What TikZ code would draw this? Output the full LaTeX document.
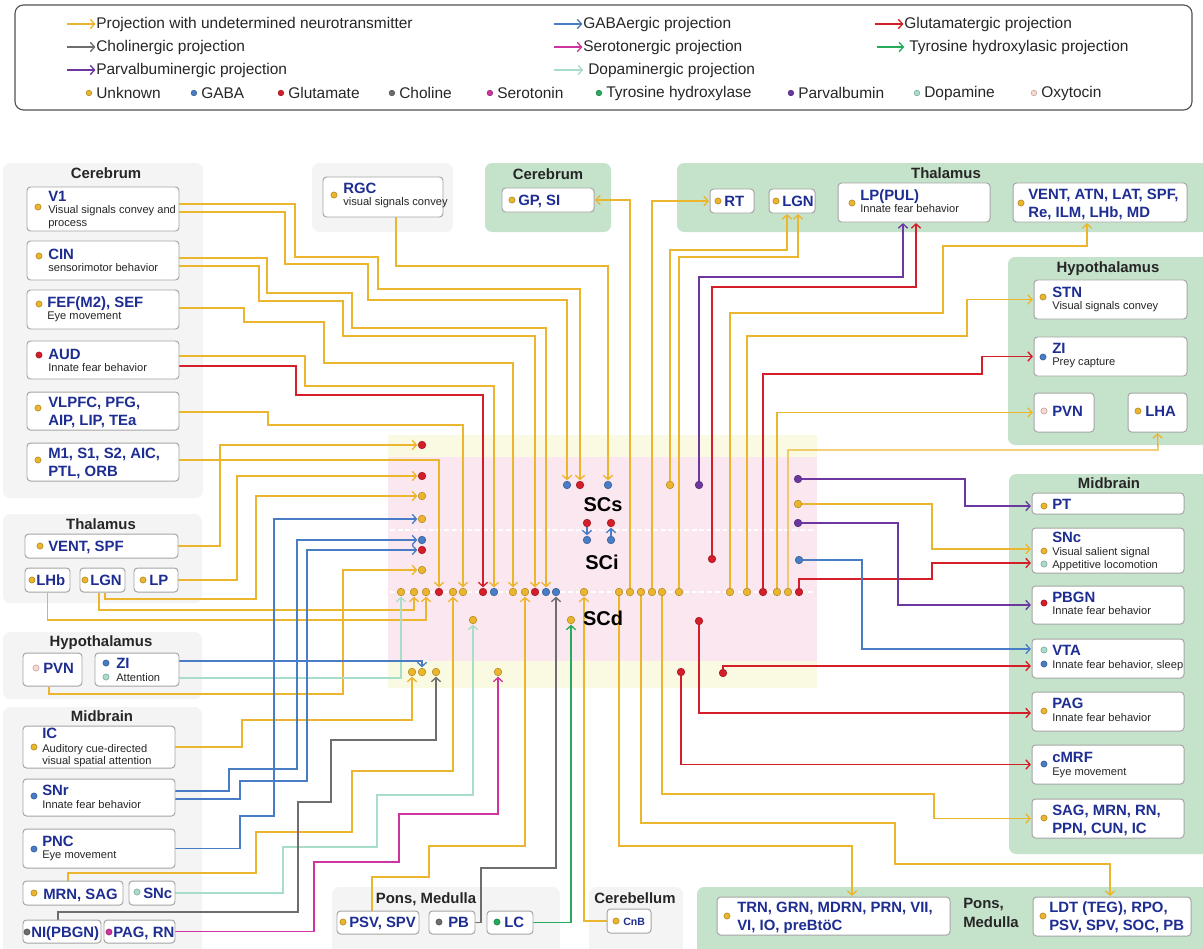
\documentclass[tikz,border=0pt]{standalone}
\usepackage{fontspec}
\setmainfont{Liberation Sans}
\usetikzlibrary{arrows.meta,positioning,fit}

\definecolor{cyel}{RGB}{236,181,46}
\definecolor{cblue}{RGB}{72,124,196}
\definecolor{cred}{RGB}{212,30,42}
\definecolor{cgray}{RGB}{110,110,110}
\definecolor{cmag}{RGB}{206,52,160}
\definecolor{cgreen}{RGB}{38,170,92}
\definecolor{cpurp}{RGB}{108,56,160}
\definecolor{cdopa}{RGB}{168,222,200}
\definecolor{coxy}{RGB}{250,216,208}
\definecolor{ttlblue}{RGB}{30,45,145}
\definecolor{txtdark}{RGB}{38,38,38}
\definecolor{grpgray}{RGB}{244,244,244}
\definecolor{grpgreen}{RGB}{197,227,203}
\definecolor{boxline}{RGB}{165,165,165}
\definecolor{scyel}{RGB}{250,250,226}
\definecolor{scpink}{RGB}{251,231,239}
\definecolor{lgdline}{RGB}{80,80,80}

\pgfdeclarelayer{back}
\pgfdeclarelayer{mid}
\pgfsetlayers{back,mid,main}

\begin{document}
\begin{tikzpicture}[
    x=0.025cm, y=-0.025cm,
    >={Straight Barb[length=3pt,width=6.6pt]},
    box/.style={draw=boxline, fill=white, rounded corners=2.5pt, line width=0.7pt, inner sep=0pt},
    ttl/.style={font=\fontsize{10.6}{12}\selectfont\bfseries, text=ttlblue, anchor=base west, inner sep=0pt},
    sub/.style={font=\fontsize{7.9}{9}\selectfont, text=txtdark, anchor=base west, inner sep=0pt},
    grp/.style={font=\fontsize{10.6}{12}\selectfont\bfseries, text=txtdark, anchor=base, inner sep=0pt},
    lgd/.style={font=\fontsize{11}{13}\selectfont, text=txtdark, anchor=west, inner sep=0pt},
    sclbl/.style={font=\fontsize{14.2}{16}\selectfont\bfseries, text=black},
    sdot/.style={circle, fill=#1, draw=#1!75!black, line width=0.4pt, inner sep=0pt, minimum size=1.9mm},
    bdot/.style={sdot=#1, minimum size=1.55mm},
    ldot/.style={sdot=#1, minimum size=1.4mm},
    ln/.style={draw=#1, line width=0.95pt, shorten >=0.4pt},
  ]
    \useasboundingbox (0,0) rectangle (1203,948);

    %% --- legend ---
    \node[draw=lgdline, rounded corners=6pt, line width=0.8pt, inner sep=0pt,
      fit={(15,5) (1192,110)}] (legend) {};
    \node[lgd] (lg1) at (96,24)  {Projection with undetermined neurotransmitter};
    \node[lgd] (lg2) at (583,24) {GABAergic projection};
    \node[lgd] (lg3) at (904,24) {Glutamatergic projection};
    \node[lgd] (lg4) at (96,47)  {Cholinergic projection};
    \node[lgd] (lg5) at (583,47) {Serotonergic projection};
    \node[lgd] (lg6) at (909,47) {Tyrosine hydroxylasic projection};
    \node[lgd] (lg7) at (96,70)  {Parvalbuminergic projection};
    \node[lgd] (lg8) at (588,70) {Dopaminergic projection};
    \draw[ln=cyel, ->]   ([xshift=-0.72cm]lg1.west) -- (lg1.west);
    \draw[ln=cblue, ->]  ([xshift=-0.72cm]lg2.west) -- (lg2.west);
    \draw[ln=cred, ->]   ([xshift=-0.72cm]lg3.west) -- (lg3.west);
    \draw[ln=cgray, ->]  ([xshift=-0.72cm]lg4.west) -- (lg4.west);
    \draw[ln=cmag, ->]   ([xshift=-0.72cm]lg5.west) -- (lg5.west);
    \draw[ln=cgreen, ->] ([xshift=-0.8cm]lg6.west) -- ([xshift=-3pt]lg6.west);
    \draw[ln=cpurp, ->]  ([xshift=-0.72cm]lg7.west) -- (lg7.west);
    \draw[ln=cdopa, ->]  ([xshift=-0.85cm]lg8.west) -- ([xshift=-3pt]lg8.west);
    \foreach \x/\c/\t [count=\i] in {96/cyel/Unknown, 201/cblue/GABA,
        288/cred/Glutamate, 399/cgray/Choline, 497/cmag/Serotonin,
        606/cgreen/Tyrosine hydroxylase, 798/cpurp/Parvalbumin,
        924/cdopa/Dopamine, 1041/coxy/Oxytocin} {
      \node[lgd] (k\i) at (\x,93) {\t};
      \node[ldot=\c, left=1mm of k\i] (kd\i) {};
    }

    %% ============================================================
    %% group backgrounds
    %% ============================================================
    \begin{pgfonlayer}{back}
      \fill[grpgray, rounded corners=5pt] (3,163) rectangle (203,498);
      \fill[grpgray, rounded corners=5pt] (3,514) rectangle (202,603);
      \fill[grpgray, rounded corners=5pt] (3,632) rectangle (202,699);
      \fill[grpgray, rounded corners=5pt] (3,707) rectangle (202,960);
      \fill[grpgray, rounded corners=5pt] (312,163) rectangle (453,232);
      \fill[grpgray, rounded corners=5pt] (332,887) rectangle (560,960);
      \fill[grpgray, rounded corners=5pt] (589,887) rectangle (683,960);
      \fill[grpgreen, rounded corners=5pt] (485,163) rectangle (611,232);
      \fill[grpgreen, rounded corners=5pt] (677,163) rectangle (1220,232);
      \fill[grpgreen, rounded corners=5pt] (1008,257) rectangle (1220,445);
      \fill[grpgreen, rounded corners=5pt] (1009,474) rectangle (1220,854);
      \fill[grpgreen, rounded corners=5pt] (697,887) rectangle (1220,960);
      %% --- SC layers ---
      \fill[scyel] (388,435) rectangle (817,688);
      \fill[scpink] (388,457) rectangle (817,661);
      \draw[white, line width=0.8pt, dash pattern=on 3.5pt off 2pt] (390,530) -- (813,530);
      \draw[white, line width=0.8pt, dash pattern=on 3.5pt off 2pt] (390,592) -- (813,592);
    \end{pgfonlayer}
    \node[sclbl] (SCs) at (603,505) {SCs};
    \node[sclbl] (SCi) at (602,562) {SCi};
    \node[sclbl] (SCd) at (603,618) {SCd};

    %% ============================================================
    %% left: Cerebrum
    %% ============================================================
    \node[grp] (gCerL) at (106,178) {Cerebrum};
    \node[box, fit={(27,187) (179,231)}] (V1) {};
    \node[bdot=cyel] (V1d) at (38,207) {};
    \node[ttl] (V1t) at (48,201) {V1};
    \node[sub] (V1s) at (48,213) {Visual signals convey and};
    \node[sub] (V1u) at (48,226) {process};

    \node[box, fit={(27,241) (179,280)}] (CIN) {};
    \node[bdot=cyel] (CINd) at (39,256) {};
    \node[ttl] (CINt) at (48,259) {CIN};
    \node[sub] (CINs) at (48,271) {sensorimotor behavior};

    \node[box, fit={(27,290) (179,329)}] (FEF) {};
    \node[bdot=cyel] (FEFd) at (39,304) {};
    \node[ttl] (FEFt) at (47,307) {FEF(M2), SEF};
    \node[sub] (FEFs) at (47,319) {Eye movement};

    \node[box, fit={(27,341) (179,379)}] (AUD) {};
    \node[bdot=cred] (AUDd) at (39,355) {};
    \node[ttl] (AUDt) at (48,359) {AUD};
    \node[sub] (AUDs) at (48,371) {Innate fear behavior};

    \node[box, fit={(27,392) (179,430)}] (VLPFC) {};
    \node[bdot=cyel] (VLPFCd) at (38,408) {};
    \node[ttl] (VLPFCt) at (48,407) {VLPFC, PFG,};
    \node[ttl] (VLPFCu) at (48,425) {AIP, LIP, TEa};

    \node[box, fit={(27,443) (179,481)}] (M1) {};
    \node[bdot=cyel] (M1d) at (38,460) {};
    \node[ttl] (M1t) at (48,458) {M1, S1, S2, AIC,};
    \node[ttl] (M1u) at (48,476) {PTL, ORB};

    %% --- left: Thalamus ---
    \node[grp] (gThaL) at (101,529) {Thalamus};
    \node[box, fit={(25,534) (178,558)}] (lVENT) {};
    \node[bdot=cyel] (lVENTd) at (40,546) {};
    \node[ttl] (lVENTt) at (48,551) {VENT, SPF};
    \node[box, fit={(25,568) (70,592)}] (lLHb) {};
    \node[bdot=cyel] (lLHbd) at (32,580) {};
    \node[ttl] (lLHbt) at (36,585) {LHb};
    \node[box, fit={(80,568) (125,592)}] (lLGN) {};
    \node[bdot=cyel] (lLGNd) at (85,580) {};
    \node[ttl] (lLGNt) at (90,585) {LGN};
    \node[box, fit={(134,568) (178,592)}] (lLP) {};
    \node[bdot=cyel] (lLPd) at (143,580) {};
    \node[ttl] (lLPt) at (149,585) {LP};

    %% --- left: Hypothalamus ---
    \node[grp] (gHypL) at (101,646) {Hypothalamus};
    \node[box, fit={(23,653) (82,686)}] (lPVN) {};
    \node[bdot=coxy] (lPVNd) at (36,668) {};
    \node[ttl] (lPVNt) at (43,673) {PVN};
    \node[box, fit={(95,653) (179,686)}] (lZI) {};
    \node[bdot=cblue] (lZId) at (106,663) {};
    \node[bdot=cdopa] (lZIe) at (106,677) {};
    \node[ttl] (lZIt) at (116,668) {ZI};
    \node[sub] (lZIs) at (116,681) {Attention};

    %% --- left: Midbrain ---
    \node[grp] (gMidL) at (102,721) {Midbrain};
    \node[box, fit={(23,726) (175,768)}] (lIC) {};
    \node[bdot=cyel] (lICd) at (34,747) {};
    \node[ttl] (lICt) at (42,738) {IC};
    \node[sub] (lICs) at (42,752) {Auditory cue-directed};
    \node[sub] (lICu) at (42,764) {visual spatial attention};

    \node[box, fit={(23,779) (175,816)}] (lSNr) {};
    \node[bdot=cblue] (lSNrd) at (34,796) {};
    \node[ttl] (lSNrt) at (42,795) {SNr};
    \node[sub] (lSNrs) at (42,808) {Innate fear behavior};

    \node[box, fit={(23,829) (175,868)}] (lPNC) {};
    \node[bdot=cblue] (lPNCd) at (34,849) {};
    \node[ttl] (lPNCt) at (42,846) {PNC};
    \node[sub] (lPNCs) at (42,858) {Eye movement};

    \node[box, fit={(23,881) (123,905)}] (lMRN) {};
    \node[bdot=cyel] (lMRNd) at (34,893) {};
    \node[ttl] (lMRNt) at (43,899) {MRN, SAG};
    \node[box, fit={(129,881) (175,905)}] (lSNc) {};
    \node[bdot=cdopa] (lSNcd) at (137,892) {};
    \node[ttl] (lSNct) at (143,898) {SNc};

    \node[box, fit={(23,920) (101,943)}] (lNI) {};
    \node[bdot=cgray] (lNId) at (27,932) {};
    \node[ttl] (lNIt) at (31,937) {NI(PBGN)};
    \node[box, fit={(104,920) (175,943)}] (lPAG) {};
    \node[bdot=cmag] (lPAGd) at (109,932) {};
    \node[ttl] (lPAGt) at (113,937) {PAG, RN};

    %% --- RGC ---
    \node[box, fit={(323,177) (443,217)}] (RGC) {};
    \node[bdot=cyel] (RGCd) at (334,195) {};
    \node[ttl] (RGCt) at (343,193) {RGC};
    \node[sub] (RGCs) at (343,205) {visual signals convey};

    %% --- bottom: Pons, Medulla / Cerebellum ---
    \node[grp] (gPonL) at (426,903) {Pons, Medulla};
    \node[box, fit={(337,911) (419,934)}] (pPSV) {};
    \node[bdot=cyel] (pPSVd) at (343,922) {};
    \node[ttl] (pPSVt) at (349,927) {PSV, SPV};
    \node[box, fit={(429,911) (475,934)}] (pPB) {};
    \node[bdot=cgray] (pPBd) at (439,922) {};
    \node[ttl] (pPBt) at (448,927) {PB};
    \node[box, fit={(487,911) (533,934)}] (pLC) {};
    \node[bdot=cgreen] (pLCd) at (497,922) {};
    \node[ttl] (pLCt) at (504,927) {LC};

    \node[grp] (gCbl) at (635,903) {Cerebellum};
    \node[box, fit={(607,909) (651,933)}] (cCnB) {};
    \node[bdot=cyel] (cCnBd) at (616,921) {};
    \node[ttl, font=\fontsize{7.5}{9}\selectfont\bfseries] (cCnBt) at (623,925) {CnB};

    %% ============================================================
    %% right: Cerebrum / Thalamus
    %% ============================================================
    \node[grp] (gCerR) at (548,179) {Cerebrum};
    \node[box, fit={(502,188) (594,212)}] (rGP) {};
    \node[bdot=cyel] (rGPd) at (512,200) {};
    \node[ttl] (rGPt) at (518,205) {GP, SI};

    \node[grp] (gThaR) at (946,178) {Thalamus};
    \node[box, fit={(710,189) (754,213)}] (rRT) {};
    \node[bdot=cyel] (rRTd) at (718,201) {};
    \node[ttl] (rRTt) at (724,206) {RT};
    \node[box, fit={(769,189) (815,213)}] (rLGN) {};
    \node[bdot=cyel] (rLGNd) at (776,201) {};
    \node[ttl] (rLGNt) at (782,206) {LGN};
    \node[box, fit={(838,183) (990,222)}] (rLP) {};
    \node[bdot=cyel] (rLPd) at (852,203) {};
    \node[ttl] (rLPt) at (860,200) {LP(PUL)};
    \node[sub] (rLPs) at (860,212) {Innate fear behavior};
    \node[box, fit={(1013,183) (1187,222)}] (rVENT) {};
    \node[bdot=cyel] (rVENTd) at (1021,203) {};
    \node[ttl] (rVENTt) at (1028,199) {VENT, ATN, LAT, SPF,};
    \node[ttl] (rVENTu) at (1028,217) {Re, ILM, LHb, MD};

    %% --- right: Hypothalamus ---
    \node[grp] (gHypR) at (1108,272) {Hypothalamus};
    \node[box, fit={(1034,280) (1187,319)}] (hSTN) {};
    \node[bdot=cyel] (hSTNd) at (1043,297) {};
    \node[ttl] (hSTNt) at (1052,297) {STN};
    \node[sub] (hSTNs) at (1052,309) {Visual signals convey};
    \node[box, fit={(1034,337) (1187,376)}] (hZI) {};
    \node[bdot=cblue] (hZId) at (1043,357) {};
    \node[ttl] (hZIt) at (1052,353) {ZI};
    \node[sub] (hZIs) at (1052,365) {Prey capture};
    \node[box, fit={(1034,393) (1094,432)}] (hPVN) {};
    \node[bdot=coxy] (hPVNd) at (1044,411) {};
    \node[ttl] (hPVNt) at (1052,416) {PVN};
    \node[box, fit={(1128,393) (1187,432)}] (hLHA) {};
    \node[bdot=cyel] (hLHAd) at (1138,411) {};
    \node[ttl] (hLHAt) at (1145,416) {LHA};

    %% --- right: Midbrain ---
    \node[grp] (gMidR) at (1109,488) {Midbrain};
    \node[box, fit={(1032,493) (1184,514)}] (mPT) {};
    \node[bdot=cyel] (mPTd) at (1044,506) {};
    \node[ttl] (mPTt) at (1052,509) {PT};

    \node[box, fit={(1032,528) (1184,573)}] (mSNc) {};
    \node[ttl] (mSNct) at (1052,542) {SNc};
    \node[bdot=cyel] (mSNcd) at (1044,551) {};
    \node[sub] (mSNcs) at (1052,555) {Visual salient signal};
    \node[bdot=cdopa] (mSNce) at (1044,564) {};
    \node[sub] (mSNcu) at (1052,568) {Appetitive locomotion};

    \node[box, fit={(1032,586) (1184,624)}] (mPBGN) {};
    \node[bdot=cred] (mPBGNd) at (1044,603) {};
    \node[ttl] (mPBGNt) at (1052,602) {PBGN};
    \node[sub] (mPBGNs) at (1052,614) {Innate fear behavior};

    \node[box, fit={(1032,639) (1184,678)}] (mVTA) {};
    \node[bdot=cdopa] (mVTAd) at (1044,650) {};
    \node[ttl] (mVTAt) at (1052,655) {VTA};
    \node[bdot=cblue] (mVTAe) at (1044,664) {};
    \node[sub] (mVTAs) at (1052,668) {Innate fear behavior, sleep};

    \node[box, fit={(1032,692) (1184,731)}] (mPAG) {};
    \node[bdot=cyel] (mPAGd) at (1044,711) {};
    \node[ttl] (mPAGt) at (1052,708) {PAG};
    \node[sub] (mPAGs) at (1052,721) {Innate fear behavior};

    \node[box, fit={(1032,745) (1184,784)}] (mcMRF) {};
    \node[bdot=cblue] (mcMRFd) at (1044,764) {};
    \node[ttl] (mcMRFt) at (1052,762) {cMRF};
    \node[sub] (mcMRFs) at (1052,775) {Eye movement};

    \node[box, fit={(1032,799) (1184,838)}] (mSAG) {};
    \node[bdot=cyel] (mSAGd) at (1044,818) {};
    \node[ttl] (mSAGt) at (1052,815) {SAG, MRN, RN,};
    \node[ttl] (mSAGu) at (1052,833) {PPN, CUN, IC};

    %% --- right: Pons, Medulla ---
    \node[box, fit={(717,897) (950,935)}] (pTRN) {};
    \node[bdot=cyel] (pTRNd) at (727,916) {};
    \node[ttl] (pTRNt) at (737,912) {TRN, GRN, MDRN, PRN, VII,};
    \node[ttl] (pTRNu) at (737,930) {VI, IO, preBtöC};
    \node[grp, anchor=base west] (gPonR) at (963,908) {Pons,};
    \node[grp, anchor=base west] (gPonS) at (963,927) {Medulla};
    \node[box, fit={(1033,897) (1191,936)}] (pLDT) {};
    \node[bdot=cyel] (pLDTd) at (1043,916) {};
    \node[ttl] (pLDTt) at (1049,912) {LDT (TEG), RPO,};
    \node[ttl] (pLDTu) at (1049,930) {PSV, SPV, SOC, PB};

    %% ============================================================
    %% SC dots
    %% ============================================================
    \foreach \nm/\x/\y/\c in {
        sL1/422/445/cred, sL2/422/476/cred, sL3/422/496/cyel, sL4/422/519/cyel,
        sL5/422/540/cblue, sL6/422/550/cred, sL7/422/570/cyel,
        b01/401/592/cyel, b02/414/592/cyel, b03/426/592/cyel, b04/439/592/cred,
        b05/453/592/cyel, b06/463/592/cyel, b07/483/592/cred, b08/494/592/cblue,
        b09/513/592/cyel, b10/525/592/cyel, b11/535/592/cred, b12/546/592/cblue,
        b13/556/592/cblue, b14/584/592/cyel, b15/619/592/cyel, b16/630/592/cyel,
        b17/641/592/cyel, b18/652/592/cyel, b19/662/592/cyel, b20/679/592/cyel,
        b21/730/592/cyel, b22/747/592/cyel, b23/763/592/cred, b24/777/592/cyel,
        b25/788/592/cyel, b26/799/592/cred,
        s1/567/485/cblue, s2/580/485/cred, s3/608/485/cblue, s4/670/485/cyel,
        s5/699/485/cpurp,
        r1/798/479/cpurp, r2/798/504/cyel, r3/798/523/cpurp, r4/799/560/cblue,
        i1/587/523/cred, i2/587/540/cblue, i3/611/523/cred, i4/611/540/cblue,
        i5/712/559/cred,
        d1/473/620/cyel, d2/571/620/cyel, d3/699/621/cred,
        t1/412/672/cyel, t2/422/672/cyel, t3/436/672/cyel, t4/498/672/cyel,
        t5/681/672/cred, t6/723/673/cred}
      \node[sdot=\c] (\nm) at (\x,\y) {};

    %% ============================================================
    %% connectors
    %% ============================================================
    \begin{pgfonlayer}{mid}
      %% --- cerebrum (left) -> SC ---
      \draw[ln=cyel, ->] (V1.east |- 0,204) -| (295,257) -| (378,289) -| (s2.north);
      \draw[ln=cyel, ->] (V1.east |- 0,212) -| (285,264) -| (368,300) -| (s1.north);
      \draw[ln=cyel, ->] (RGC.south -| 396,0) -- (396,266) -| (s3.north);
      \draw[ln=cyel, ->] (CIN.east |- 0,258) -| (267,293) -| (352,328) -| (b12.north);
      \draw[ln=cyel, ->] (CIN.east |- 0,266) -| (259,301) -| (343,336) -| (b11.north);
      \draw[ln=cyel, ->] (FEF.east |- 0,308) -| (244,322) -| (324,363) -| (b09.north);
      \draw[ln=cyel, ->] (AUD.east |- 0,356) -| (305,386) -| (b08.north);
      \draw[ln=cred, ->] (AUD.east |- 0,366) -| (296,395) -| (b07.north);
      \draw[ln=cyel, ->] (VLPFC.east |- 0,412) -| (268,425) -| (b06.north);
      \draw[ln=cyel, ->] (M1.east |- 0,460) -| (b04.north);

      %% --- thalamus / hypothalamus (left) -> SC ---
      \draw[ln=cyel, ->] (lVENT.east) -| (220,445) -- (sL1.west);
      \draw[ln=cyel, ->] (lLP.east) -| (237,476) -- (sL2.west);
      \draw[ln=cyel, ->] (lLGN.south -| 105,0) |- (256,599) |- (sL3.west);
      \draw[ln=cyel, ->] (lLGN.south -| 99,0) |- (300,610) -| (b02.south);
      \draw[ln=cyel, ->] (lLHb.south) |- (300,620) -| (b03.south);
      \draw[ln=cyel, ->] (lPVN.south -| 49,0) |- (343,694) |- (sL7.west);
      \draw[ln=cdopa, ->] (lZI.east |- 0,678) -| (b01.south);
      \draw[ln=cblue, ->] (lZI.east |- 0,661) -| (t2.north);

      %% --- midbrain (left) -> SC ---
      \draw[ln=cyel, ->] (lIC.east |- 0,747) -| (242,720) -| (t1.south);
      \draw[ln=cblue, ->] (lSNr.east |- 0,791) -| (229,769) -| (297,540) -- (sL5.west);
      \draw[ln=cblue, ->] (lSNr.east |- 0,799) -| (240,781) -| (307,550) -- (sL6.west);
      \draw[ln=cblue, ->] (lPNC.east) -| (240,816) -| (274,519) -- (sL4.west);
      \draw[ln=cyel, ->] (lMRN.north -| 68,0) |- (256,873) |- (352,832) |- (453,771) -- (b05.south);
      \draw[ln=cdopa, ->] (lSNc.east) -| (283,847) -| (377,795) -| (d1.south);
      \draw[ln=cgray, ->] (lNI.north -| 58,0) |- (298,912) |- (331,802) |- (436,740) -- (t3.south);
      \draw[ln=cmag, ->] (lPAG.east) -| (314,862) -| (399,814) -| (t4.south);

      %% --- pons, medulla / cerebellum -> SC ---
      \draw[ln=cyel, ->] (pPSV.north -| 372,0) |- (429,877) |- (525,846) -- (b10.south);
      \draw[ln=cgray, ->] (pPB.east) -| (481,868) -| (b13.south);
      \draw[ln=cgreen, ->] (pLC.east) -| (d2.south);
      \draw[ln=cyel, ->] (cCnB.west) -| (b14.south);

      %% --- SCi internal ---
      \draw[ln=cblue, ->] (i1) -- (i2.north);
      \draw[ln=cblue, ->] (i4) -- (i3.south);

      %% --- SC -> cerebrum / thalamus (right) ---
      \draw[ln=cyel, ->] (b16) |- (rGP.east);
      \draw[ln=cyel, ->] (b18) |- (rRT.west);
      \draw[ln=cyel, ->] (s4) |- (787,250) -- (rLGN.south -| 787,0);
      \draw[ln=cyel, ->] (b20) |- (798,257) -- (rLGN.south -| 798,0);
      \draw[ln=cpurp, ->] (s5) |- (903,277) -- (rLP.south -| 903,0);
      \draw[ln=cred, ->] (i5) |- (916,287) -- (rLP.south -| 916,0);
      \draw[ln=cyel, ->] (b21) |- (943,313) |- (1087,246) -- (rVENT.south -| 1087,0);

      %% --- SC -> hypothalamus (right) ---
      \draw[ln=cyel, ->] (b22) |- (967,336) |- (hSTN.west);
      \draw[ln=cred, ->] (b23) |- (982,374) |- (hZI.west);
      \draw[ln=cyel, ->] (b24) |- (hPVN.west);
      \draw[ln=cyel, ->] (b25) |- (1158,450) -- (hLHA.south);

      %% --- SC -> midbrain (right) ---
      \draw[ln=cpurp, ->] (r1) -| (965,506) -- (mPT.west |- 0,506);
      \draw[ln=cyel, ->] (r2) -| (932,549) -- (mSNc.west |- 0,549);
      \draw[ln=cred, ->] (b26) |- (932,579) |- (mSNc.west |- 0,563);
      \draw[ln=cpurp, ->] (r3) -| (898,605) -- (mPBGN.west |- 0,605);
      \draw[ln=cblue, ->] (r4) -| (862,649) -- (mVTA.west |- 0,649);
      \draw[ln=cred, ->] (t6) |- (mVTA.west |- 0,666);
      \draw[ln=cred, ->] (d3) |- (mPAG.west |- 0,713);
      \draw[ln=cred, ->] (t5) |- (mcMRF.west);
      \draw[ln=cyel, ->] (b19) |- (934,794) |- (mSAG.west);

      %% --- SC -> pons, medulla (right) ---
      \draw[ln=cyel, ->] (b17) |- (895,823) |- (1110,864) -- (pLDT.north -| 1110,0);
      \draw[ln=cyel, ->] (b15) |- (852,846) -- (pTRN.north -| 852,0);
    \end{pgfonlayer}

  \end{tikzpicture}
\end{document}
